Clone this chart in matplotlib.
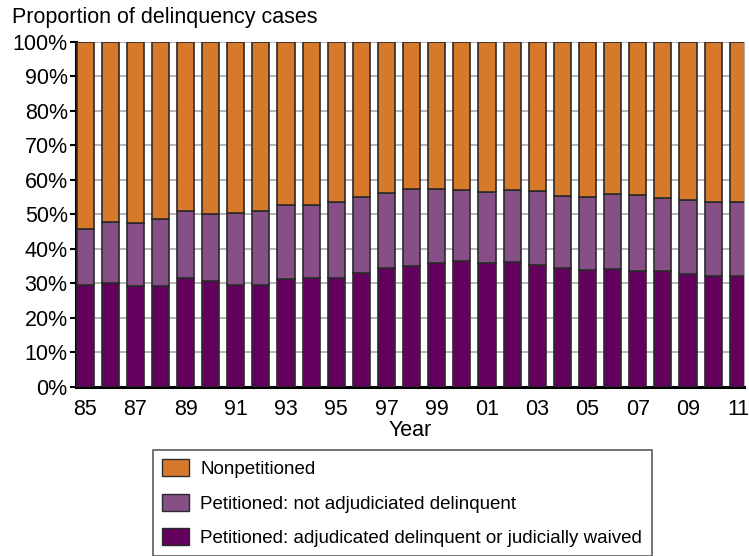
import numpy as np
import matplotlib.pyplot as plt
from matplotlib.patches import Patch

plt.rcParams['font.family'] = ['Liberation Sans', 'DejaVu Sans']

years = list(range(1985, 2012))
tick_labels = ['85', '87', '89', '91', '93', '95', '97', '99', '01', '03', '05', '07', '09', '11']

# percent of cases
adjudicated = [29.7, 30.2, 29.2, 29.4, 31.7, 30.7, 29.7, 29.6, 31.4, 31.5, 31.5, 33.1, 34.4, 35.1,
               35.9, 36.5, 35.9, 36.1, 35.3, 34.6, 33.9, 34.3, 33.7, 33.5, 32.7, 32.3, 32.1]
petitioned_total = [45.9, 47.8, 47.4, 48.8, 51.0, 50.2, 50.4, 50.9, 52.8, 52.8, 53.7, 55.2, 56.3, 57.4,
                    57.4, 57.2, 56.5, 57.0, 56.7, 55.4, 55.2, 55.9, 55.7, 54.9, 54.3, 53.5, 53.7]

not_adjudicated = np.array(petitioned_total) - np.array(adjudicated)
nonpetitioned = 100 - np.array(petitioned_total)

c_dark = '#63005e'
c_mid = '#864f85'
c_orange = '#d7792b'
edge = '#2a2a2a'
fs = 15.5

fig = plt.figure(figsize=(7.49, 5.56), dpi=100)
ax = fig.add_axes([0.1015, 0.304, 0.8915, 0.6205])

x = np.arange(len(years))
w = 0.68
ax.bar(x, adjudicated, w, color=c_dark, edgecolor=edge, linewidth=1.2, zorder=3)
ax.bar(x, not_adjudicated, w, bottom=adjudicated, color=c_mid, edgecolor=edge, linewidth=1.2, zorder=3)
ax.bar(x, nonpetitioned, w, bottom=petitioned_total, color=c_orange, edgecolor=edge, linewidth=1.2, zorder=3)

ax.set_xlim(-0.36, 26.22)
ax.set_ylim(0, 100)
ax.set_yticks(np.arange(0, 101, 10))
ax.set_yticklabels([f'{v}%' for v in range(0, 101, 10)], fontsize=fs)
ax.set_xticks(x[::2])
ax.set_xticklabels(tick_labels, fontsize=fs)
ax.tick_params(axis='x', length=0, pad=9)
ax.tick_params(axis='y', length=4, width=1.5, direction='out', pad=2)
ax.grid(axis='y', color='#b0b0b0', linewidth=1.3, zorder=0)

ax.spines['top'].set_visible(False)
ax.spines['right'].set_color('#b0b0b0')
ax.spines['left'].set_linewidth(2.2)
ax.spines['bottom'].set_linewidth(2.2)

ax.set_xlabel('Year', fontsize=fs, labelpad=0)
fig.text(0.016, 0.968, 'Proportion of delinquency cases', fontsize=fs, va='center', ha='left')

handles = [
    Patch(facecolor=c_orange, edgecolor=edge, label='Nonpetitioned'),
    Patch(facecolor=c_mid, edgecolor=edge, label='Petitioned: not adjudiciated delinquent'),
    Patch(facecolor=c_dark, edgecolor=edge, label='Petitioned: adjudicated delinquent or judicially waived'),
]
leg = fig.legend(handles=handles, loc='upper left', bbox_to_anchor=(0.204, 0.1906),
                 fontsize=13.5, frameon=True, fancybox=False, edgecolor='#333333',
                 handlelength=1.44, handleheight=1.0, labelspacing=0.83, borderpad=0.5,
                 handletextpad=0.6, borderaxespad=0)
leg.get_frame().set_linewidth(1.2)

fig.savefig('out.png', dpi=100)
